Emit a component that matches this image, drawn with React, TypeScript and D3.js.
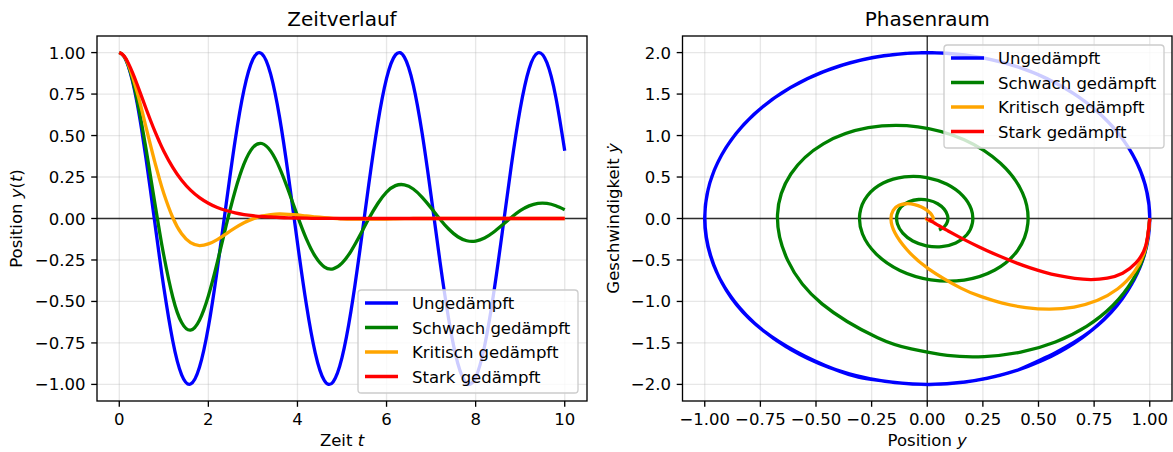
import * as d3 from 'd3'

// sample times (denser over the first second)
const T = [0, 0.1, 0.2, 0.3, 0.4, 0.5, 0.6, 0.7, 0.8, 0.9, 1.0,
  1.2, 1.4, 1.6, 1.8, 2.0, 2.2, 2.4, 2.6, 2.8, 3.0,
  3.2, 3.4, 3.6, 3.8, 4.0, 4.2, 4.4, 4.6, 4.8, 5.0,
  5.2, 5.4, 5.6, 5.8, 6.0, 6.2, 6.4, 6.6, 6.8, 7.0,
  7.2, 7.4, 7.6, 7.8, 8.0, 8.2, 8.4, 8.6, 8.8, 9.0,
  9.2, 9.4, 9.6, 9.8, 10.0]

const Y_UNGED = [1.000, 0.980, 0.921, 0.825, 0.697, 0.540, 0.362, 0.170, -0.029, -0.227, -0.416,
  -0.737, -0.942, -0.998, -0.897, -0.654, -0.307, 0.087, 0.469, 0.776, 0.960,
  0.993, 0.869, 0.608, 0.251, -0.146, -0.519, -0.811, -0.975, -0.985, -0.839,
  -0.561, -0.194, 0.203, 0.568, 0.844, 0.986, 0.973, 0.806, 0.512, 0.137,
  -0.260, -0.615, -0.874, -0.994, -0.958, -0.770, -0.460, -0.079, 0.316, 0.660,
  0.901, 0.999, 0.939, 0.731, 0.408]
const V_UNGED = [0, -0.397, -0.779, -1.129, -1.435, -1.683, -1.864, -1.971, -1.999, -1.948, -1.819,
  -1.351, -0.670, 0.117, 0.885, 1.514, 1.903, 1.992, 1.767, 1.263, 0.559,
  -0.233, -0.988, -1.587, -1.936, -1.979, -1.709, -1.170, -0.446, 0.349, 1.088,
  1.656, 1.962, 1.958, 1.646, 1.073, 0.331, -0.463, -1.184, -1.718, -1.981,
  -1.931, -1.576, -0.973, -0.216, 0.576, 1.276, 1.775, 1.994, 1.898, 1.502,
  0.869, 0.099, -0.687, -1.364, -1.826]

const Y_SCHWACH = [1.000, 0.980, 0.924, 0.834, 0.716, 0.576, 0.420, 0.256, 0.090, -0.072, -0.223,
  -0.473, -0.627, -0.673, -0.613, -0.467, -0.265, -0.042, 0.166, 0.329, 0.428,
  0.452, 0.406, 0.304, 0.166, 0.016, -0.123, -0.229, -0.291, -0.303, -0.269,
  -0.198, -0.103, -0.002, 0.089, 0.159, 0.198, 0.203, 0.178, 0.128, 0.064,
  -0.004, -0.065, -0.110, -0.134, -0.136, -0.118, -0.083, -0.039, 0.006, 0.047,
  0.076, 0.091, 0.091, 0.077, 0.053]
const V_SCHWACH = [0, -0.388, -0.741, -1.049, -1.300, -1.489, -1.611, -1.664, -1.650, -1.573, -1.438,
  -1.029, -0.505, 0.045, 0.536, 0.900, 1.094, 1.105, 0.949, 0.665, 0.309,
  -0.060, -0.385, -0.621, -0.742, -0.739, -0.626, -0.429, -0.187, 0.061, 0.275,
  0.428, 0.502, 0.494, 0.412, 0.276, 0.111, -0.054, -0.196, -0.295, -0.340,
  -0.329, -0.271, -0.177, -0.065, 0.045, 0.139, 0.202, 0.229, 0.220, 0.178,
  0.113, 0.038, -0.036, -0.098, -0.139]

const Y_KRITISCH = [1.000, 0.981, 0.931, 0.855, 0.763, 0.660, 0.551, 0.443, 0.338, 0.240, 0.151,
  0.006, -0.092, -0.146, -0.163, -0.153, -0.127, -0.092, -0.057, -0.026, -0.002,
  0.014, 0.023, 0.027, 0.025, 0.021, 0.015, 0.010, 0.005, 0.001, -0.002,
  -0.004, -0.004, -0.004, -0.003, -0.003, -0.002, -0.001, 0.000, 0.000, 0.000,
  0.000, 0.000, 0.000, 0.000, 0.000, 0.000, 0.000, 0.000, 0.000, 0.000,
  0.000, 0.000, 0.000, 0.000, 0.000]
const V_KRITISCH = [0, -0.360, -0.642, -0.850, -0.989, -1.067, -1.093, -1.074, -1.020, -0.939, -0.839,
  -0.608, -0.374, -0.169, -0.009, 0.099, 0.159, 0.178, 0.168, 0.139, 0.102,
  0.064, 0.030, 0.003, -0.015, -0.025, -0.029, -0.028, -0.023, -0.017, -0.011,
  -0.005, -0.001, 0.002, 0.004, 0.005, 0.005, 0.004, 0.003, 0.002, 0.001,
  0.000, 0.000, 0.000, 0.000, 0.000, 0.000, 0.000, 0.000, 0.000, 0.000,
  0.000, 0.000, 0.000, 0.000, 0.000]

const Y_STARK = [1.000, 0.982, 0.938, 0.878, 0.809, 0.736, 0.663, 0.592, 0.525, 0.463, 0.406,
  0.308, 0.231, 0.171, 0.126, 0.092, 0.066, 0.048, 0.034, 0.024, 0.017,
  0.012, 0.009, 0.006, 0.004, 0.003, 0.002, 0.001, 0.001, 0.001, 0.000,
  0.000, 0.000, 0.000, 0.000, 0.000, 0.000, 0.000, 0.000, 0.000, 0.000,
  0.000, 0.000, 0.000, 0.000, 0.000, 0.000, 0.000, 0.000, 0.000, 0.000,
  0.000, 0.000, 0.000, 0.000, 0.000]
const V_STARK = [0, -0.327, -0.536, -0.659, -0.719, -0.736, -0.723, -0.690, -0.646, -0.595, -0.541,
  -0.435, -0.341, -0.261, -0.197, -0.147, -0.108, -0.079, -0.057, -0.041, -0.030,
  -0.021, -0.015, -0.011, -0.008, -0.005, -0.004, -0.003, -0.002, -0.001, -0.001,
  0.000, 0.000, 0.000, 0.000, 0.000, 0.000, 0.000, 0.000, 0.000, 0.000,
  0.000, 0.000, 0.000, 0.000, 0.000, 0.000, 0.000, 0.000, 0.000, 0.000,
  0.000, 0.000, 0.000, 0.000, 0.000]

const LABELS = ['Ungedämpft', 'Schwach gedämpft', 'Kritisch gedämpft', 'Stark gedämpft']
const COLORS = ['#0000ff', '#008000', '#ffa500', '#ff0000']
const POS = [Y_UNGED, Y_SCHWACH, Y_KRITISCH, Y_STARK]
const VEL = [V_UNGED, V_SCHWACH, V_KRITISCH, V_STARK]

const T_TICKS = [0, 2, 4, 6, 8, 10]
const POS_TICKS = [-1, -0.75, -0.5, -0.25, 0, 0.25, 0.5, 0.75, 1]
const VEL_TICKS = [-2, -1.5, -1, -0.5, 0, 0.5, 1, 1.5, 2]

const W = 1173
const H = 452
const FONT = 'DejaVu Sans'
const FS = 16.5
const LW = 3.3
const SPINE = 1.33

const f2 = d3.format('.2f')
const f1 = d3.format('.1f')

interface AxesProps {
  x0: number; x1: number; y0: number; y1: number
  xs: d3.ScaleLinear<number, number>
  ys: d3.ScaleLinear<number, number>
  xTicks: number[]; yTicks: number[]
  xFmt: (n: number) => string; yFmt: (n: number) => string
  title: string
  xLabel: React.ReactNode
  yLabel: React.ReactNode
  yLabelX: number
  children?: React.ReactNode
}

function Axes({ x0, x1, y0, y1, xs, ys, xTicks, yTicks, xFmt, yFmt, title, xLabel, yLabel, yLabelX, children }: AxesProps) {
  const cx = (x0 + x1) / 2
  const cy = (y0 + y1) / 2
  return (
    <g fontFamily={FONT} fontSize={FS} fill="#000">
      {/* grid */}
      {xTicks.map(t => (
        <line key={'gx' + t} x1={xs(t)} x2={xs(t)} y1={y0} y2={y1} stroke="#b0b0b0" strokeOpacity={0.3} strokeWidth={1.33} />
      ))}
      {yTicks.map(t => (
        <line key={'gy' + t} x1={x0} x2={x1} y1={ys(t)} y2={ys(t)} stroke="#b0b0b0" strokeOpacity={0.3} strokeWidth={1.33} />
      ))}
      {children}
      {/* spines */}
      <rect x={x0} y={y0} width={x1 - x0} height={y1 - y0} fill="none" stroke="#000" strokeWidth={SPINE} />
      {/* ticks */}
      {xTicks.map(t => (
        <g key={'tx' + t}>
          <line x1={xs(t)} x2={xs(t)} y1={y1} y2={y1 + 5.8} stroke="#000" strokeWidth={SPINE} />
          <text x={xs(t)} y={425} textAnchor="middle">{xFmt(t)}</text>
        </g>
      ))}
      {yTicks.map(t => (
        <g key={'ty' + t}>
          <line x1={x0 - 5.8} x2={x0} y1={ys(t)} y2={ys(t)} stroke="#000" strokeWidth={SPINE} />
          <text x={x0 - 11.6} y={ys(t) + 6} textAnchor="end">{yFmt(t)}</text>
        </g>
      ))}
      <text x={cx} y={26} textAnchor="middle" fontSize={20}>{title}</text>
      <text x={cx} y={446} textAnchor="middle">{xLabel}</text>
      <text transform={`translate(${yLabelX},${cy}) rotate(-90)`} textAnchor="middle">{yLabel}</text>
    </g>
  )
}

function Legend({ x, y }: { x: number; y: number }) {
  return (
    <g fontFamily={FONT} fontSize={FS}>
      <rect x={x} y={y} width={220} height={103} rx={3.3} fill="#fff" fillOpacity={0.8} stroke="#cccccc" strokeWidth={1.33} />
      {LABELS.map((l, i) => {
        const ry = y + 13 + i * 24.5
        return (
          <g key={l}>
            <line x1={x + 7} x2={x + 40} y1={ry} y2={ry} stroke={COLORS[i]} strokeWidth={LW} />
            <text x={x + 54} y={ry + 6} fill="#000">{l}</text>
          </g>
        )
      })}
    </g>
  )
}

export default function App() {
  const L = { x0: 97, x1: 587, y0: 36, y1: 401 }
  const R = { x0: 682.5, x1: 1172, y0: 36, y1: 401 }

  const xT = d3.scaleLinear().domain([-0.5, 10.5]).range([L.x0, L.x1])
  const yP = d3.scaleLinear().domain([-1.1, 1.1]).range([L.y1, L.y0])
  const xY = d3.scaleLinear().domain([-1.1, 1.1]).range([R.x0, R.x1])
  const yV = d3.scaleLinear().domain([-2.2, 2.2]).range([R.y1, R.y0])

  const curve = d3.curveNatural
  const timeLine = d3.line<[number, number]>().x(d => xT(d[0])).y(d => yP(d[1])).curve(curve)
  const phaseLine = d3.line<[number, number]>().x(d => xY(d[0])).y(d => yV(d[1])).curve(curve)

  return (
    <div style={{ position: 'absolute', left: 0, top: 0, width: W, height: H, background: '#fff' }}>
      <svg width={W} height={H} viewBox={`0 0 ${W} ${H}`} style={{ display: 'block' }}>
        <rect width={W} height={H} fill="#fff" />
        <Axes {...L} xs={xT} ys={yP} xTicks={T_TICKS} yTicks={POS_TICKS}
          xFmt={n => String(n)} yFmt={f2} title="Zeitverlauf"
          xLabel={<>Zeit <tspan fontStyle="italic">t</tspan></>}
          yLabel={<>Position <tspan fontStyle="italic">y</tspan>(<tspan fontStyle="italic">t</tspan>)</>}
          yLabelX={22}>
          <line x1={L.x0} x2={L.x1} y1={yP(0)} y2={yP(0)} stroke="#000" strokeOpacity={0.8} strokeWidth={1.33} />
          {POS.map((ys, i) => (
            <path key={i} d={timeLine(T.map((t, k) => [t, ys[k]]))!} fill="none" stroke={COLORS[i]} strokeWidth={LW} strokeLinejoin="round" />
          ))}
        </Axes>
        <Legend x={358} y={290} />

        <Axes {...R} xs={xY} ys={yV} xTicks={POS_TICKS} yTicks={VEL_TICKS}
          xFmt={f2} yFmt={f1} title="Phasenraum"
          xLabel={<>Position <tspan fontStyle="italic">y</tspan></>}
          yLabel={<>Geschwindigkeit <tspan fontStyle="italic">ẏ</tspan></>}
          yLabelX={619}>
          <line x1={R.x0} x2={R.x1} y1={yV(0)} y2={yV(0)} stroke="#000" strokeOpacity={0.8} strokeWidth={1.33} />
          <line x1={xY(0)} x2={xY(0)} y1={R.y0} y2={R.y1} stroke="#000" strokeOpacity={0.8} strokeWidth={1.33} />
          {POS.map((ys, i) => (
            <path key={i} d={phaseLine(ys.map((y, k) => [y, VEL[i][k]]))!} fill="none" stroke={COLORS[i]} strokeWidth={LW} strokeLinejoin="round" />
          ))}
        </Axes>
        <Legend x={944} y={45} />
      </svg>
    </div>
  )
}
